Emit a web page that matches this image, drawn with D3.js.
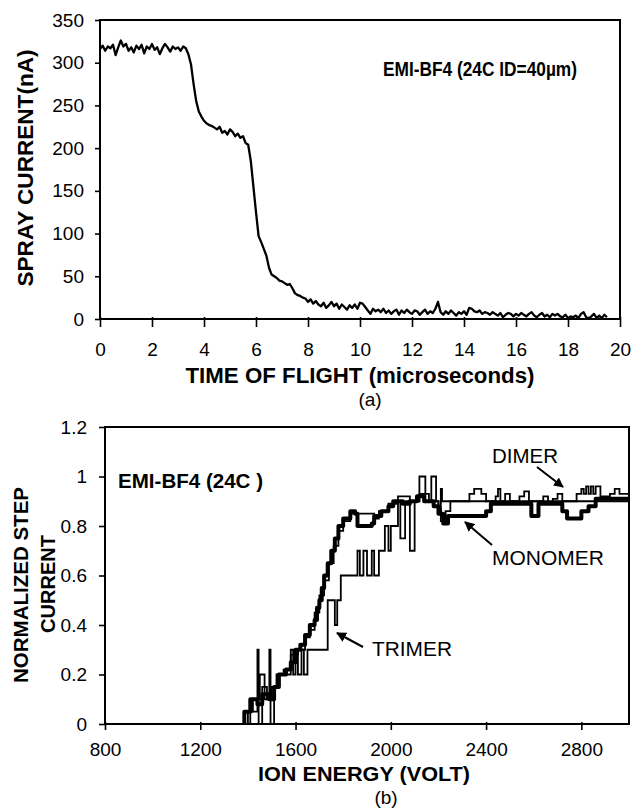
<!DOCTYPE html>
<html>
<head>
<meta charset="utf-8">
<script src="https://cdn.jsdelivr.net/npm/d3@7"></script>
<style>
  body { margin: 0; background: #fff; }
  svg { display: block; font-family: "Liberation Sans", Arial, sans-serif; }
</style>
</head>
<body>
<svg id="chart" width="631" height="808"></svg>
<script>
// ---- (a) spray current vs time of flight ----
const tofStart = 0;     // microseconds
const tofStep = 0.1;    // sampling step of the trace
const sprayCurrent = [
  316, 320, 314, 319, 317, 321, 309, 318, 326, 319, 322, 314, 318, 312, 320, 316, 321, 311, 319, 316,
  322, 315, 318, 310, 317, 322, 318, 313, 319, 316, 318, 314, 319, 317, 310, 298, 275, 255, 243, 237,
  232, 229, 227, 226, 224, 222, 225, 218, 220, 216, 222, 219, 214, 217, 212, 214, 206, 204, 185, 155,
  125, 97, 90, 82, 74, 60, 52, 50, 48, 45, 44, 42, 40, 41, 36, 30, 28, 27, 25, 24,
  20, 23, 18, 21, 17, 15, 19, 13, 16, 20, 15, 18, 12, 17, 14, 11, 16, 13, 17, 12,
  19, 18, 14, 10, 6, 12, 9, 11, 8, 12, 7, 10, 6, 9, 11, 5, 10, 7, 11, 8,
  6, 10, 9, 5, 8, 11, 6, 9, 7, 12, 20, 8, 5, 9, 6, 10, 7, 4, 8, 6,
  9, 5, 13, 12, 9, 8, 10, 6, 8, 7, 5, 8, 6, 4, 7, 2, 5, 7, 6, 3,
  6, 4, 7, 5, 3, 6, 8, 4, 2, 5, 7, 3, 5, 2, 6, 4, 6, 3, 2, 5,
  1, 3, 2, 4, 1, 6, 8, 2, 1, 3, 6, 1, 4, 1, 5, 2
];
const tofTicks = [0, 2, 4, 6, 8, 10, 12, 14, 16, 18, 20];
const currentTicks = [0, 50, 100, 150, 200, 250, 300, 350];

// ---- (b) normalized step current vs ion energy, [volt, value] steps ----
const monomer = [
  [1380, 0], [1385, 0.05], [1400, 0.05], [1410, 0.1], [1440, 0.08], [1460, 0.12], [1490, 0.1],
  [1510, 0.15], [1530, 0.2], [1560, 0.22], [1580, 0.25], [1600, 0.3], [1620, 0.32], [1640, 0.36],
  [1660, 0.4], [1680, 0.42], [1690, 0.47], [1700, 0.5], [1710, 0.55], [1720, 0.6], [1735, 0.65],
  [1750, 0.7], [1765, 0.75], [1780, 0.8], [1800, 0.83], [1830, 0.86], [1850, 0.85], [1860, 0.8],
  [1920, 0.81], [1930, 0.84], [1960, 0.86], [1990, 0.88], [2010, 0.9], [2050, 0.89], [2080, 0.9],
  [2110, 0.92], [2140, 0.9], [2180, 0.88], [2200, 0.85], [2220, 0.81], [2240, 0.84], [2400, 0.86],
  [2420, 0.89], [2590, 0.84], [2620, 0.89], [2720, 0.86], [2740, 0.83], [2800, 0.86], [2830, 0.88],
  [2860, 0.91], [3000, 0.91]
];
const dimer = [
  [1390, 0], [1400, 0.05], [1420, 0.1], [1450, 0.2], [1470, 0.1], [1500, 0.15], [1520, 0.2],
  [1550, 0.22], [1580, 0.28], [1610, 0.3], [1640, 0.35], [1660, 0.38], [1680, 0.45], [1700, 0.52],
  [1720, 0.58], [1740, 0.65], [1760, 0.72], [1780, 0.78], [1800, 0.82], [1830, 0.85], [1870, 0.85],
  [1930, 0.83], [1950, 0.86], [1990, 0.89], [2030, 0.92], [2080, 0.9], [2120, 0.93], [2160, 0.9],
  [2200, 0.87], [2210, 0.82], [2230, 0.86], [2250, 0.9], [2330, 0.93], [2350, 0.95], [2380, 0.93],
  [2400, 0.9], [2440, 0.92], [2450, 0.95], [2460, 0.9], [2480, 0.93], [2500, 0.9], [2540, 0.92],
  [2560, 0.94], [2580, 0.9], [2640, 0.92], [2660, 0.89], [2680, 0.91], [2700, 0.93], [2720, 0.9],
  [2780, 0.93], [2800, 0.95], [2810, 0.93], [2820, 0.96], [2830, 0.93], [2840, 0.96], [2850, 0.93],
  [2860, 0.96], [2880, 0.92], [2920, 0.93], [2940, 0.95], [2960, 0.93], [3000, 0.93]
];
const trimer = [
  [1400, 0], [1410, 0.1], [1420, 0.05], [1440, 0.3], [1445, 0], [1460, 0.15], [1480, 0.1],
  [1490, 0.3], [1495, 0], [1510, 0.15], [1530, 0.2], [1580, 0.3], [1590, 0.2], [1600, 0.3],
  [1610, 0.2], [1625, 0.3], [1635, 0.2], [1650, 0.3], [1735, 0.5], [1765, 0.4], [1775, 0.5],
  [1790, 0.6], [1860, 0.7], [1870, 0.6], [1885, 0.7], [1900, 0.6], [1920, 0.7], [1930, 0.6],
  [1950, 0.7], [1975, 0.8], [1990, 0.7], [2000, 0.8], [2030, 0.9], [2040, 0.75], [2060, 0.9],
  [2080, 0.7], [2100, 0.9], [2120, 1.0], [2145, 0.9], [2170, 1.0], [2190, 0.9], [2200, 0.85],
  [2210, 0.95], [2215, 0.9], [3000, 0.9]
];
const energyTicks = [800, 1200, 1600, 2000, 2400, 2800];
const stepTicks = [0, 0.2, 0.4, 0.6, 0.8, 1, 1.2];

const svg = d3.select('#chart');
const font = '"Liberation Sans", Arial, sans-serif';

// helper for the axis look of the original (black, no domain path from d3)
const styleAxis = (g, fontSize) => {
  g.select('.domain').remove();
  g.selectAll('.tick line').attr('stroke', '#000').attr('stroke-width', 1.6);
  g.selectAll('.tick text').attr('fill', '#000').style('font-size', fontSize + 'px').style('font-family', font);
};

// ================= panel (a) =================
const xa = d3.scaleLinear().domain([0, 20]).range([100, 620]);
const ya = d3.scaleLinear().domain([0, 350]).range([319, 20]);

svg.append('g')
  .attr('transform', `translate(0,${ya(0)})`)
  .call(d3.axisBottom(xa).tickValues(tofTicks).tickSize(8).tickPadding(16).tickFormat(d3.format('d')))
  .call(g => styleAxis(g, 19))
  .call(g => g.selectAll('.tick line').attr('y1', -2));

svg.append('g')
  .attr('transform', `translate(${xa(0)},0)`)
  .call(d3.axisLeft(ya).tickValues(currentTicks).tickSize(5).tickPadding(11).tickFormat(d3.format('d')))
  .call(g => styleAxis(g, 19));

svg.append('rect')
  .attr('x', xa(0)).attr('y', ya(350))
  .attr('width', xa(20) - xa(0)).attr('height', ya(0) - ya(350))
  .attr('fill', 'none').attr('stroke', '#000').attr('stroke-width', 2);

svg.append('path')
  .datum(sprayCurrent)
  .attr('fill', 'none')
  .attr('stroke', '#000')
  .attr('stroke-width', 2.3)
  .attr('stroke-linejoin', 'round')
  .attr('d', d3.line()
    .x((d, i) => xa(tofStart + i * tofStep))
    .y(d => ya(d)));

svg.append('text')
  .attr('x', 383).attr('y', 76)
  .attr('textLength', 194).attr('lengthAdjust', 'spacingAndGlyphs')
  .style('font-size', '20px').style('font-weight', 'bold')
  .text('EMI-BF4 (24C ID=40µm)');

svg.append('text')
  .attr('transform', 'translate(33,168) rotate(-90)')
  .attr('text-anchor', 'middle')
  .attr('textLength', 237).attr('lengthAdjust', 'spacingAndGlyphs')
  .style('font-size', '22px').style('font-weight', 'bold')
  .text('SPRAY CURRENT(nA)');

svg.append('text')
  .attr('x', 360).attr('y', 383)
  .attr('text-anchor', 'middle')
  .attr('textLength', 349).attr('lengthAdjust', 'spacingAndGlyphs')
  .style('font-size', '22px').style('font-weight', 'bold')
  .text('TIME OF FLIGHT (microseconds)');

svg.append('text')
  .attr('x', 370).attr('y', 406)
  .attr('text-anchor', 'middle')
  .style('font-size', '19px')
  .text('(a)');

// ================= panel (b) =================
const xb = d3.scaleLinear().domain([800, 3000]).range([105, 629]);
const yb = d3.scaleLinear().domain([0, 1.2]).range([724, 427]);

svg.append('defs').append('clipPath').attr('id', 'clipB')
  .append('rect')
  .attr('x', xb(800)).attr('y', yb(1.2))
  .attr('width', xb(3000) - xb(800)).attr('height', yb(0) - yb(1.2));

svg.append('g')
  .attr('transform', `translate(0,${yb(0)})`)
  .call(d3.axisBottom(xb).tickValues(energyTicks).tickSize(6).tickPadding(13).tickFormat(d3.format('d')))
  .call(g => styleAxis(g, 19))
  .call(g => g.selectAll('.tick line').attr('y1', -2));

svg.append('g')
  .attr('transform', `translate(${xb(800)},0)`)
  .call(d3.axisLeft(yb).tickValues(stepTicks).tickSize(6).tickPadding(12).tickFormat(d3.format('~g')))
  .call(g => styleAxis(g, 19));

const stepLine = d3.line()
  .curve(d3.curveStepAfter)
  .x(d => xb(d[0]))
  .y(d => yb(d[1]));

const plotB = svg.append('g').attr('clip-path', 'url(#clipB)');

plotB.append('path').datum(trimer)
  .attr('fill', 'none').attr('stroke', '#000').attr('stroke-width', 1.8)
  .attr('d', stepLine);

plotB.append('path').datum(dimer)
  .attr('fill', 'none').attr('stroke', '#000').attr('stroke-width', 1.8)
  .attr('d', stepLine);

plotB.append('path').datum(monomer)
  .attr('fill', 'none').attr('stroke', '#000').attr('stroke-width', 4)
  .attr('stroke-linejoin', 'round')
  .attr('d', stepLine);

svg.append('rect')
  .attr('x', xb(800)).attr('y', yb(1.2))
  .attr('width', xb(3000) - xb(800)).attr('height', yb(0) - yb(1.2))
  .attr('fill', 'none').attr('stroke', '#000').attr('stroke-width', 2);

svg.append('text')
  .attr('x', 118).attr('y', 488)
  .attr('textLength', 145).attr('lengthAdjust', 'spacingAndGlyphs')
  .style('font-size', '20px').style('font-weight', 'bold')
  .text('EMI-BF4 (24C )');

// series labels with arrows
svg.append('defs').append('marker')
  .attr('id', 'arrow')
  .attr('viewBox', '0 0 10 10')
  .attr('refX', 9).attr('refY', 5)
  .attr('markerWidth', 5).attr('markerHeight', 5)
  .attr('orient', 'auto')
  .append('path').attr('d', 'M0,0 L10,5 L0,10 z').attr('fill', '#000');

const labels = [
  { text: 'DIMER', x: 492, y: 463, w: 66, arrow: [537, 467, 563, 487] },
  { text: 'MONOMER', x: 492, y: 565, w: 112, arrow: [492, 545, 465, 522] },
  { text: 'TRIMER', x: 372, y: 656, w: 80, arrow: [363, 647, 337, 633] }
];

labels.forEach(l => {
  svg.append('text')
    .attr('x', l.x).attr('y', l.y)
    .attr('textLength', l.w).attr('lengthAdjust', 'spacingAndGlyphs')
    .style('font-size', '20px')
    .text(l.text);
  svg.append('line')
    .attr('x1', l.arrow[0]).attr('y1', l.arrow[1])
    .attr('x2', l.arrow[2]).attr('y2', l.arrow[3])
    .attr('stroke', '#000').attr('stroke-width', 2)
    .attr('marker-end', 'url(#arrow)');
});

svg.append('text')
  .attr('transform', 'translate(28,585) rotate(-90)')
  .attr('text-anchor', 'middle')
  .attr('textLength', 196).attr('lengthAdjust', 'spacingAndGlyphs')
  .style('font-size', '20px').style('font-weight', 'bold')
  .text('NORMALIZED STEP');

svg.append('text')
  .attr('transform', 'translate(55,584) rotate(-90)')
  .attr('text-anchor', 'middle')
  .attr('textLength', 98).attr('lengthAdjust', 'spacingAndGlyphs')
  .style('font-size', '20px').style('font-weight', 'bold')
  .text('CURRENT');

svg.append('text')
  .attr('x', 364).attr('y', 781)
  .attr('text-anchor', 'middle')
  .attr('textLength', 212).attr('lengthAdjust', 'spacingAndGlyphs')
  .style('font-size', '21px').style('font-weight', 'bold')
  .text('ION ENERGY (VOLT)');

svg.append('text')
  .attr('x', 386).attr('y', 804)
  .attr('text-anchor', 'middle')
  .style('font-size', '19px')
  .text('(b)');
</script>
</body>
</html>
